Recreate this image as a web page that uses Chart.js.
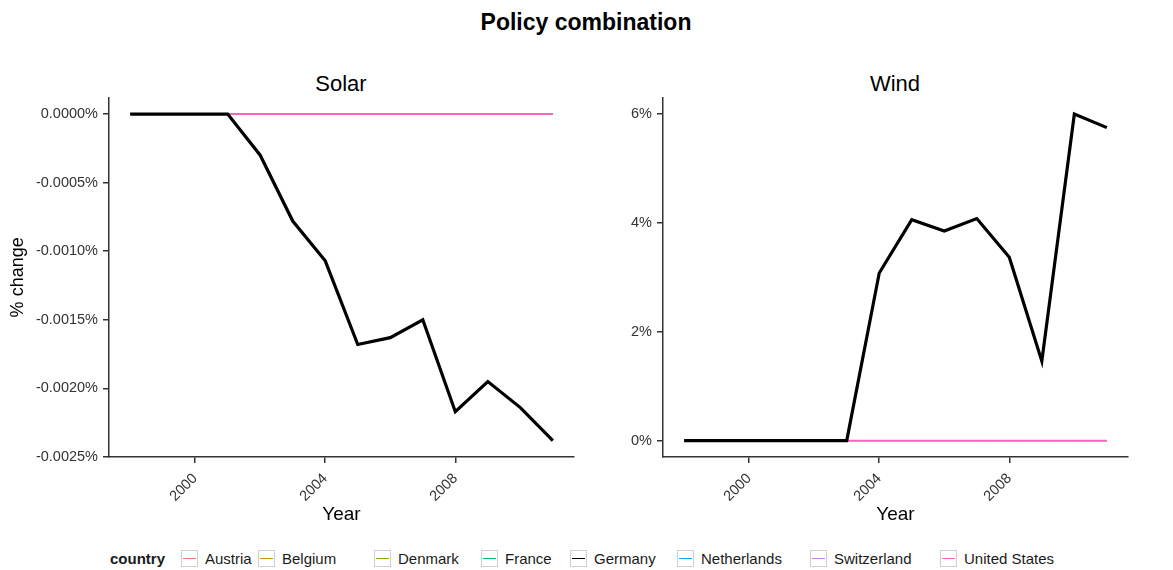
<!DOCTYPE html>
<html>
<head>
<meta charset="utf-8">
<script src="https://cdn.jsdelivr.net/npm/chart.js@4"></script>
<style>
body{margin:0;background:#fff;font-family:"Liberation Sans",Arial,sans-serif;}
#wrap{position:relative;width:1173px;height:570px;overflow:hidden;background:#fff;}
.t{position:absolute;white-space:nowrap;transform:translate(-50%,-50%);color:#000;}
canvas{position:absolute;}
.leg{position:absolute;top:549px;height:18px;display:flex;align-items:center;font-size:15px;color:#1a1a1a;white-space:nowrap;}
.key{width:17px;height:17px;border:1px solid #cfcfcf;position:relative;margin-right:7px;box-sizing:border-box;background:#fff;}
.key i{position:absolute;left:1px;right:1px;top:7px;height:1.5px;}
</style>
</head>
<body>
<div id="wrap">
  <div class="t" style="left:586px;top:22px;font-size:23px;font-weight:bold;">Policy combination</div>
  <div class="t" style="left:341px;top:84px;font-size:22px;">Solar</div>
  <div class="t" style="left:895px;top:84px;font-size:22px;">Wind</div>
  <canvas id="solar" width="586" height="446" style="left:0;top:84px"></canvas>
  <canvas id="wind" width="587" height="446" style="left:586px;top:84px"></canvas>
  <div id="legend"></div>
</div>
<script>
// ---- data ----
const years = [1998,1999,2000,2001,2002,2003,2004,2005,2006,2007,2008,2009,2010,2011];
const countries = ["Austria","Belgium","Denmark","France","Germany","Netherlands","Switzerland","United States"];
const countryColors = ["#F8766D","#CD9600","#7CAE00","#00BE67","#000000","#00A9FF","#C77CFF","#FF61CC"];
// % change, Solar panel
const solarGermany = [0,0,0,0,-0.00030,-0.00078,-0.00107,-0.00168,-0.00163,-0.00150,-0.00217,-0.00195,-0.00214,-0.00238];
const solarOthers  = [0,0,0,0,0,0,0,0,0,0,0,0,0,0];
// % change, Wind panel
const windGermany = [0,0,0,0,0,0,3.08,4.06,3.85,4.08,3.37,1.46,6.00,5.75];
const windOthers  = [0,0,0,0,0,0,0,0,0,0,0,0,0,0];
// tick labels
const xTickYears = [2000,2004,2008];
const solarTicks = [-0.0025,-0.0020,-0.0015,-0.0010,-0.0005,0];
const windTicks = [0,2,4,6];
// legend item left positions
const legendX = [181,258,374,481,570,677,810,940];

const FONT = '"Liberation Sans", Arial, sans-serif';
Chart.defaults.font.family = FONT;

function makeChart(id, germany, others, yMin, yMax, yTicks, fmt, yTitle, yWidth, padRight){
  const datasets = countries.map((c,i)=>{
    const isDE = c === "Germany";
    const isUS = c === "United States";
    const vals = isDE ? germany : others;
    return {
      label: c,
      data: years.map((y,k)=>({x:y, y:vals[k]})),
      borderColor: countryColors[i],
      backgroundColor: countryColors[i],
      borderWidth: isDE ? 3.2 : (isUS ? 1.8 : 0.8),
      pointRadius: 0,
      fill: false,
      tension: 0,
      borderJoinStyle: 'miter',
      order: isDE ? 0 : (isUS ? 1 : 2 + i)
    };
  });
  return new Chart(document.getElementById(id), {
    type: 'line',
    data: {datasets},
    options: {
      responsive: false,
      animation: false,
      layout: {padding: {top: 7, right: padRight, left: 0, bottom: 0}},
      plugins: {legend: {display: false}, tooltip: {enabled: false}},
      scales: {
        x: {
          type: 'linear', min: 1997.35, max: 2011.65,
          border: {display: true, color: '#333', width: 1.5},
          grid: {display: true, drawOnChartArea: false, drawTicks: true, tickLength: 6, color: '#333', lineWidth: 1.5},
          ticks: {color: '#333', font: {size: 14.5}, minRotation: 45, maxRotation: 45, padding: 7, autoSkip: false,
                  callback: v => String(v)},
          afterBuildTicks: s => { s.ticks = xTickYears.map(v => ({value: v})); },
          afterFit: s => { s.height = 73; },
          title: {display: true, text: 'Year', color: '#000', font: {size: 19}, padding: {top: 0, bottom: 4}}
        },
        y: {
          type: 'linear', min: yMin, max: yMax,
          border: {display: true, color: '#333', width: 1.5},
          grid: {display: true, drawOnChartArea: false, drawTicks: true, tickLength: 6, color: '#333', lineWidth: 1.5},
          ticks: {color: '#333', font: {size: 14.5}, padding: 5, autoSkip: false, callback: v => fmt(v)},
          afterBuildTicks: s => { s.ticks = yTicks.map(v => ({value: v})); },
          afterFit: s => { s.width = yWidth; },
          title: {display: !!yTitle, text: yTitle || '', color: '#000', font: {size: 18}, padding: {top: 7, bottom: 0}}
        }
      }
    }
  });
}

makeChart('solar', solarGermany, solarOthers, -0.0025, 0.000119, solarTicks,
  v => (Math.abs(v) < 1e-12 ? 0 : v).toFixed(4) + '%', '% change', 109, 12);
makeChart('wind', windGermany, windOthers, -0.3, 6.3, windTicks,
  v => v + '%', null, 77, 45);

// legend
const leg = document.getElementById('legend');
const head = document.createElement('div');
head.className = 'leg';
head.style.left = '110px';
head.style.fontWeight = 'bold';
head.textContent = 'country';
leg.appendChild(head);
countries.forEach((c,i)=>{
  const d = document.createElement('div');
  d.className = 'leg';
  d.style.left = legendX[i] + 'px';
  const k = document.createElement('span');
  k.className = 'key';
  const ln = document.createElement('i');
  ln.style.background = countryColors[i];
  k.appendChild(ln);
  d.appendChild(k);
  const s = document.createElement('span');
  s.textContent = c;
  d.appendChild(s);
  leg.appendChild(d);
});
</script>
</body>
</html>
